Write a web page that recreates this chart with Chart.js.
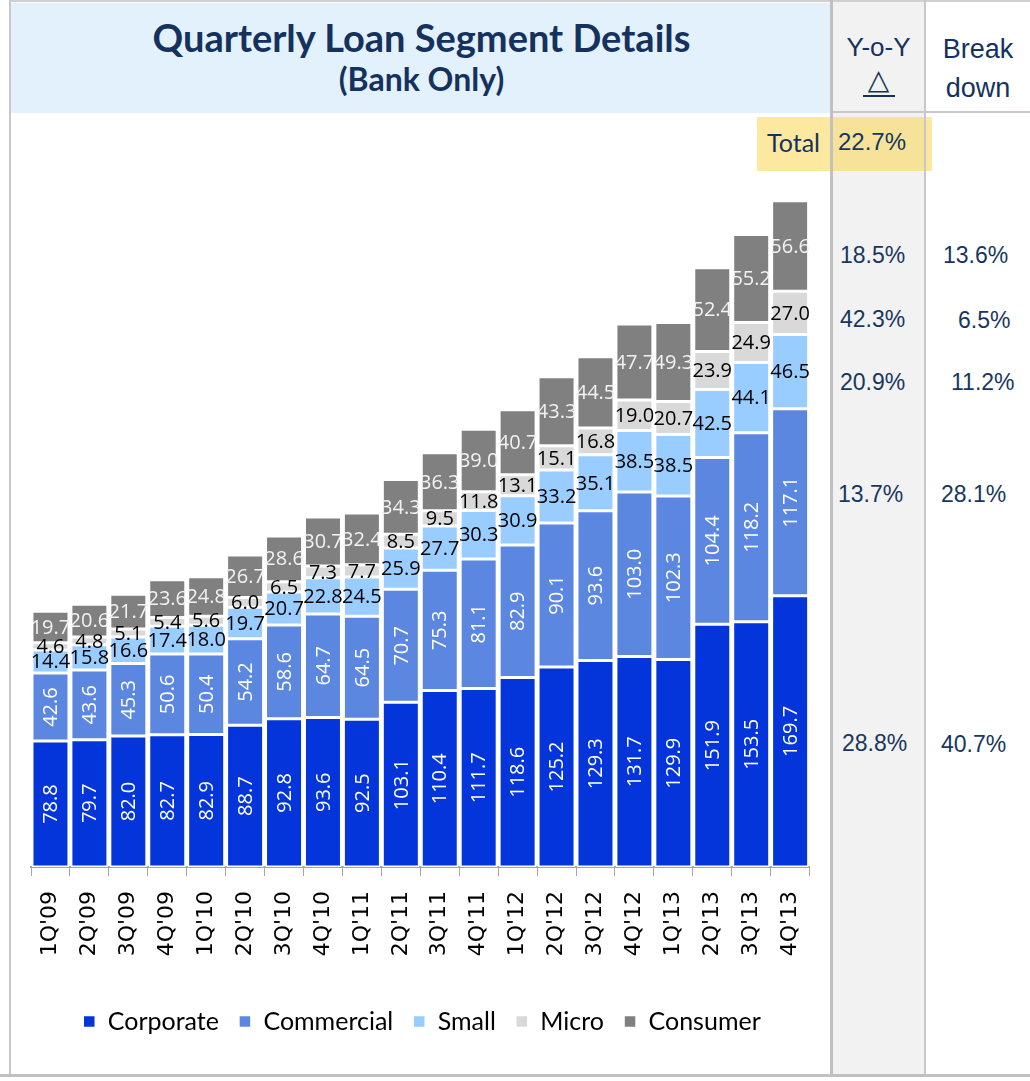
<!DOCTYPE html>
<html><head><meta charset="utf-8">
<script src="https://cdn.jsdelivr.net/npm/chart.js@4.4.0/dist/chart.umd.min.js"></script>
<style>
body{margin:0;background:#fff;width:1030px;height:1081px;position:relative;overflow:hidden;font-family:"Liberation Sans",Arial,sans-serif;}
.abs{position:absolute;}
.navy{color:#15325F;}
.num{position:absolute;font-family:"Liberation Sans",Arial,sans-serif;font-size:23px;color:#17375E;line-height:28px;white-space:nowrap;}
</style></head><body>
<div class="abs" style="left:832px;top:0;width:93px;height:1075px;background:#F2F2F2"></div>
<div class="abs" style="left:9px;top:0;width:1021px;height:2px;background:#D0D0D0"></div>
<div class="abs" style="left:9px;top:0;width:2px;height:1077px;background:#C8C8C8"></div>
<div class="abs" style="left:0;top:1074px;width:1030px;height:3px;background:#C0C0C0"></div>
<div class="abs" style="left:11px;top:3px;width:821px;height:110px;background:#E3F1FD"></div>
<div class="abs" style="left:832px;top:111px;width:198px;height:2px;background:#C8C8C8"></div>
<div class="abs" style="left:757px;top:117px;width:175px;height:54px;background:rgba(250,215,80,0.55)"></div>
<div class="abs" style="left:830px;top:0;width:3px;height:1075px;background:#C0C0C0"></div>
<div class="abs" style="left:924px;top:0;width:2px;height:1075px;background:#C8C8C8"></div>

<div class="abs navy" style="left:11px;top:15px;width:821px;text-align:center;font:bold 38px Lato,sans-serif;line-height:44px;">Quarterly Loan Segment Details</div>
<div class="abs navy" style="left:11px;top:60px;width:821px;text-align:center;font:bold 32px Lato,sans-serif;line-height:38px;">(Bank Only)</div>

<div class="abs navy" style="left:832px;top:31px;width:93px;text-align:center;font:26px 'Liberation Sans',Arial,sans-serif;line-height:32px;">Y-o-Y</div>
<div class="abs navy" style="left:832px;top:64px;width:93px;text-align:center;font:28px 'DejaVu Sans',sans-serif;line-height:32px;">△</div>
<div class="abs" style="left:863px;top:95px;width:32px;height:2px;background:#15325F"></div>
<div class="abs navy" style="left:926px;top:30px;width:104px;text-align:center;font:27px 'Liberation Sans',Arial,sans-serif;line-height:39px;">Break<br>down</div>

<div class="abs navy" style="left:767px;top:126px;font:25px Lato,sans-serif;line-height:32px;">Total</div>
<div class="num" style="left:838px;top:128px;font-size:24px;">22.7%</div>

<div class="num" style="left:840px;top:241px;">18.5%</div>
<div class="num" style="left:943px;top:241px;">13.6%</div>
<div class="num" style="left:840px;top:305px;">42.3%</div>
<div class="num" style="left:958px;top:306px;">6.5%</div>
<div class="num" style="left:840px;top:368px;">20.9%</div>
<div class="num" style="left:951px;top:368px;">11.2%</div>
<div class="num" style="left:838px;top:480px;">13.7%</div>
<div class="num" style="left:941px;top:480px;">28.1%</div>
<div class="num" style="left:842px;top:729px;">28.8%</div>
<div class="num" style="left:941px;top:730px;">40.7%</div>

<canvas id="c" width="820" height="960" style="position:absolute;left:12px;top:114px;"></canvas>
<script>
const categories = ["1Q'09","2Q'09","3Q'09","4Q'09","1Q'10","2Q'10","3Q'10","4Q'10","1Q'11","2Q'11","3Q'11","4Q'11","1Q'12","2Q'12","3Q'12","4Q'12","1Q'13","2Q'13","3Q'13","4Q'13"];
const corporate  = [78.8,79.7,82.0,82.7,82.9,88.7,92.8,93.6,92.5,103.1,110.4,111.7,118.6,125.2,129.3,131.7,129.9,151.9,153.5,169.7];
const commercial = [42.6,43.6,45.3,50.6,50.4,54.2,58.6,64.7,64.5,70.7,75.3,81.1,82.9,90.1,93.6,103.0,102.3,104.4,118.2,117.1];
const small      = [14.4,15.8,16.6,17.4,18.0,19.7,20.7,22.8,24.5,25.9,27.7,30.3,30.9,33.2,35.1,38.5,38.5,42.5,44.1,46.5];
const micro      = [4.6,4.8,5.1,5.4,5.6,6.0,6.5,7.3,7.7,8.5,9.5,11.8,13.1,15.1,16.8,19.0,20.7,23.9,24.9,27.0];
const consumer   = [19.7,20.6,21.7,23.6,24.8,26.7,28.6,30.7,32.4,34.3,36.3,39.0,40.7,43.3,44.5,47.7,49.3,52.4,55.2,56.6];

const segLabels = {
  id: 'segLabels',
  afterDatasetsDraw(chart) {
    const ctx = chart.ctx;
    chart.data.datasets.forEach((ds, i) => {
      const meta = chart.getDatasetMeta(i);
      meta.data.forEach((bar, j) => {
        const p = bar.getProps(['x', 'y', 'base'], true);
        const cy = (p.y + p.base) / 2;
        const txt = ds.data[j].toFixed(1);
        ctx.save();
        ctx.font = '20px "Open Sans"';
        ctx.textAlign = 'center';
        ctx.textBaseline = 'middle';
        ctx.fillStyle = ds.labelColor;
        if (ds.rotateLabel) {
          ctx.translate(p.x, cy);
          ctx.rotate(-Math.PI / 2);
          ctx.fillText(txt, 0, 1);
        } else {
          ctx.fillText(txt, p.x, cy + 1);
        }
        ctx.restore();
      });
    });
  }
};

function ds(label, data, color, labelColor, rotate) {
  return {label, data, backgroundColor: color, borderColor: '#ffffff', borderWidth: 1.5, borderSkipped: false,
          labelColor, rotateLabel: rotate, barPercentage: 0.95, categoryPercentage: 1.0};
}

new Chart(document.getElementById('c'), {
  type: 'bar',
  data: {
    labels: categories,
    datasets: [
      ds('Corporate', corporate, '#0335DA', '#ffffff', true),
      ds('Commercial', commercial, '#5B87E0', '#ffffff', true),
      ds('Small', small, '#99CCFF', '#000000', false),
      ds('Micro', micro, '#D9D9D9', '#000000', false),
      ds('Consumer', consumer, '#808080', '#F2F2F2', false)
    ]
  },
  options: {
    responsive: false,
    animation: false,
    layout: {padding: {left: 19, right: 19, top: 18, bottom: 30}},
    plugins: {
      tooltip: {enabled: false},
      legend: {
        position: 'bottom',
        labels: {boxWidth: 12, boxHeight: 12, padding: 20, color: '#000', font: {family: 'Lato', size: 25}}
      }
    },
    scales: {
      x: {
        stacked: true,
        offset: true,
        grid: {display: true, drawOnChartArea: false, drawTicks: true, tickLength: 9, color: '#A6A6A6', offset: true},
        border: {display: true, color: '#A6A6A6', width: 2},
        ticks: {maxRotation: 90, minRotation: 90, autoSkip: false, padding: 15, color: '#000', font: {family: 'DejaVu Sans', size: 22}},
        afterFit(s) { s.height = 122; }
      },
      y: {stacked: true, display: false, min: 0, max: 460}
    }
  },
  plugins: [segLabels]
});
</script>
</body></html>
